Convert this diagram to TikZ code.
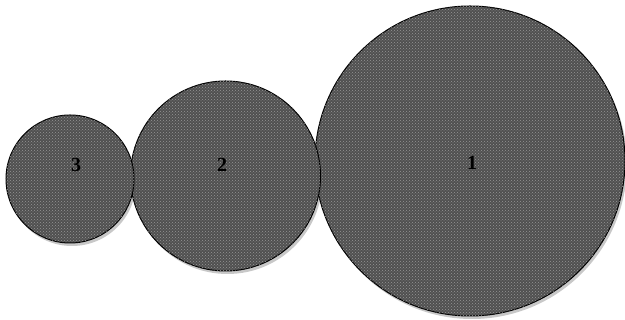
\documentclass[tikz,border=0pt]{standalone}
\usepackage{fontspec}
\setmainfont{Liberation Serif}
\usetikzlibrary{patterns}
\definecolor{discfill}{RGB}{80,80,80}
\definecolor{dotc}{RGB}{150,150,150}
\definecolor{shadowc}{RGB}{200,200,200}
\tikzset{
  disc/.style={circle, draw=black, line width=1pt, fill=discfill, inner sep=0pt, minimum size=#1,
    postaction={pattern=crosshatch dots, pattern color=dotc}},
  discshadow/.style={circle, fill=shadowc, draw=none, inner sep=0pt, minimum size=#1},
  num/.style={font=\bfseries\fontsize{20}{20}\selectfont, text=black, inner sep=0pt}
}
\begin{document}
\begin{tikzpicture}[x=1pt,y=1pt]
\useasboundingbox (0,0) rectangle (625,320);
% shadows
\node[discshadow=128pt] at (72,138) {};
\node[discshadow=190pt] at (227.5,141) {};
\node[discshadow=310pt] at (472,156) {};
% discs
\node[disc=310pt] (c1) at (470,159) {};
\node[disc=190pt] (c2) at (225.5,144) {};
\node[disc=128pt] (c3) at (70,141) {};
% labels
\node[num] (l3) at (76,155) {3};
\node[num] (l2) at (222,155) {2};
\node[num] (l1) at (472,157) {1};
\end{tikzpicture}
\end{document}
